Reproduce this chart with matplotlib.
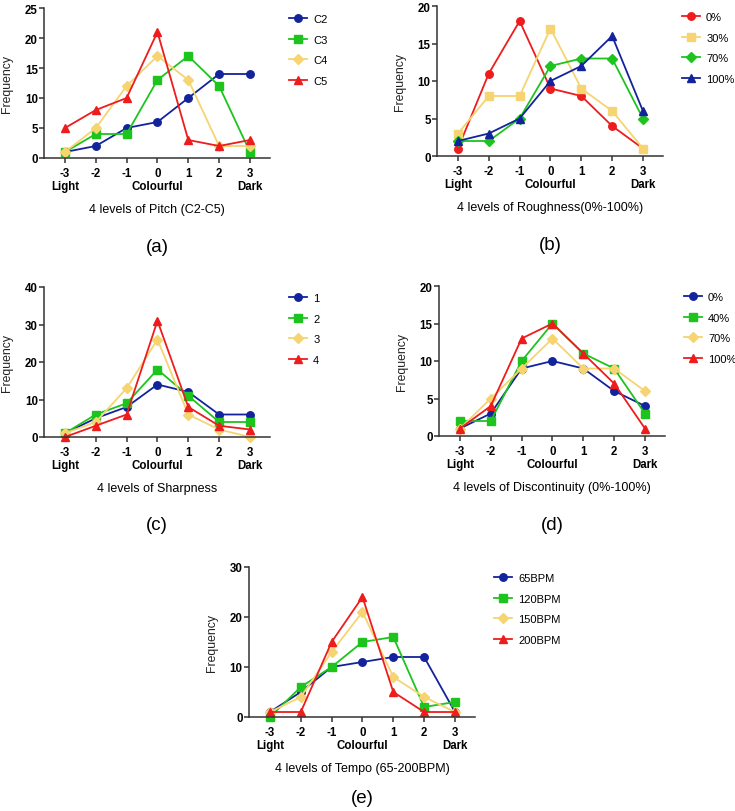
import matplotlib
matplotlib.use("Agg")
import matplotlib.pyplot as plt

plt.rcParams['font.family'] = ['Liberation Sans', 'DejaVu Sans']

levels = [-3, -2, -1, 0, 1, 2, 3]
tick_labels = ['-3\nLight', '-2', '-1', '0\nColourful', '1', '2', '3\nDark']

# (a) pitch
pitch_names = ['C2', 'C3', 'C4', 'C5']
pitch_vals = [
    [1, 2, 5, 6, 10, 14, 14],
    [1, 4, 4, 13, 17, 12, 1],
    [1, 5, 12, 17, 13, 2, 2],
    [5, 8, 10, 21, 3, 2, 3],
]
# (b) roughness
rough_names = ['0%', '30%', '70%', '100%']
rough_vals = [
    [1, 11, 18, 9, 8, 4, 1],
    [3, 8, 8, 17, 9, 6, 1],
    [2, 2, 5, 12, 13, 13, 5],
    [2, 3, 5, 10, 12, 16, 6],
]
# (c) sharpness
sharp_names = ['1', '2', '3', '4']
sharp_vals = [
    [1, 5, 8, 14, 12, 6, 6],
    [1, 6, 9, 18, 11, 4, 4],
    [1, 4, 13, 26, 6, 2, 0],
    [0, 3, 6, 31, 8, 3, 2],
]
# (d) discontinuity
disc_names = ['0%', '40%', '70%', '100%']
disc_vals = [
    [1, 3, 9, 10, 9, 6, 4],
    [2, 2, 10, 15, 11, 9, 3],
    [1, 5, 9, 13, 9, 9, 6],
    [1, 4, 13, 15, 11, 7, 1],
]
# (e) tempo
tempo_names = ['65BPM', '120BPM', '150BPM', '200BPM']
tempo_vals = [
    [1, 5, 10, 11, 12, 12, 1],
    [0, 6, 10, 15, 16, 2, 3],
    [1, 4, 13, 21, 8, 4, 1],
    [1, 1, 15, 24, 5, 1, 1],
]

BLUE = '#13239b'
GREEN = '#1ec41e'
YELLOW = '#f5d471'
RED = '#ee1c1c'

W, H = 735, 812
fig = plt.figure(figsize=(W / 100, H / 100), dpi=100)


def panel(left, top, series, names, styles, ymax, ystep, xlabel, tag, tag_off=88):
    """left/top in pixels of the axes box"""
    aw, ah = 226, 150
    ax = fig.add_axes([left / W, 1 - (top + ah) / H, aw / W, ah / H])
    for vals, name, (c, m) in zip(series, names, styles):
        ax.plot(levels, vals, color=c, marker=m, markersize=5.4 if m != 'D' else 4.6,
                lw=1.3, label=name, clip_on=False)
    ax.set_xlim(-3.68, 3.65)
    ax.set_ylim(0, ymax)
    ax.set_yticks(range(0, ymax + 1, ystep))
    ax.set_xticks(levels)
    ax.set_xticklabels(tick_labels, fontweight='bold', fontsize=8.3, linespacing=1.1)
    for t in ax.get_yticklabels():
        t.set_fontweight('bold')
        t.set_fontsize(8.3)
    for s in ['top', 'right']:
        ax.spines[s].set_visible(False)
    for s in ['left', 'bottom']:
        ax.spines[s].set_color('#333333')
        ax.spines[s].set_linewidth(1.1)
    ax.tick_params(axis='x', length=3.5, width=1.1, color='#333333', pad=3.2)
    ax.tick_params(axis='y', length=3.5, width=1.1, color='#333333', pad=1)
    ax.set_ylabel('Frequency', fontsize=8.8, color='#222222')
    ax.yaxis.set_label_coords(-0.135, 0.5)
    ax.legend(loc='upper left', bbox_to_anchor=(1.085, 0.96), frameon=False,
              fontsize=8, borderpad=0, borderaxespad=0, handlelength=1.6,
              handletextpad=0.55, labelspacing=0.95)
    cx = (left + aw / 2) / W
    fig.text(cx, 1 - (top + ah + 51) / H, xlabel, ha='center', va='center', fontsize=9)
    fig.text(cx, 1 - (top + ah + tag_off) / H, tag, ha='center', va='center', fontsize=13.5)
    return ax


std = [(BLUE, 'o'), (GREEN, 's'), (YELLOW, 'D'), (RED, '^')]
rough = [(RED, 'o'), (YELLOW, 's'), (GREEN, 'D'), (BLUE, '^')]

panel(44, 9, pitch_vals, pitch_names, std, 25, 5, '4 levels of Pitch (C2-C5)', '(a)')
panel(437, 7, rough_vals, rough_names, rough, 20, 5, '4 levels of Roughness(0%-100%)', '(b)')
panel(44, 288, sharp_vals, sharp_names, std, 40, 10, '4 levels of Sharpness', '(c)')
panel(439, 287, disc_vals, disc_names, std, 20, 5, '4 levels of Discontinuity (0%-100%)', '(d)')
panel(249, 568, tempo_vals, tempo_names, std, 30, 10, '4 levels of Tempo (65-200BPM)', '(e)',
      tag_off=81)

fig.savefig('out.png', dpi=100)
